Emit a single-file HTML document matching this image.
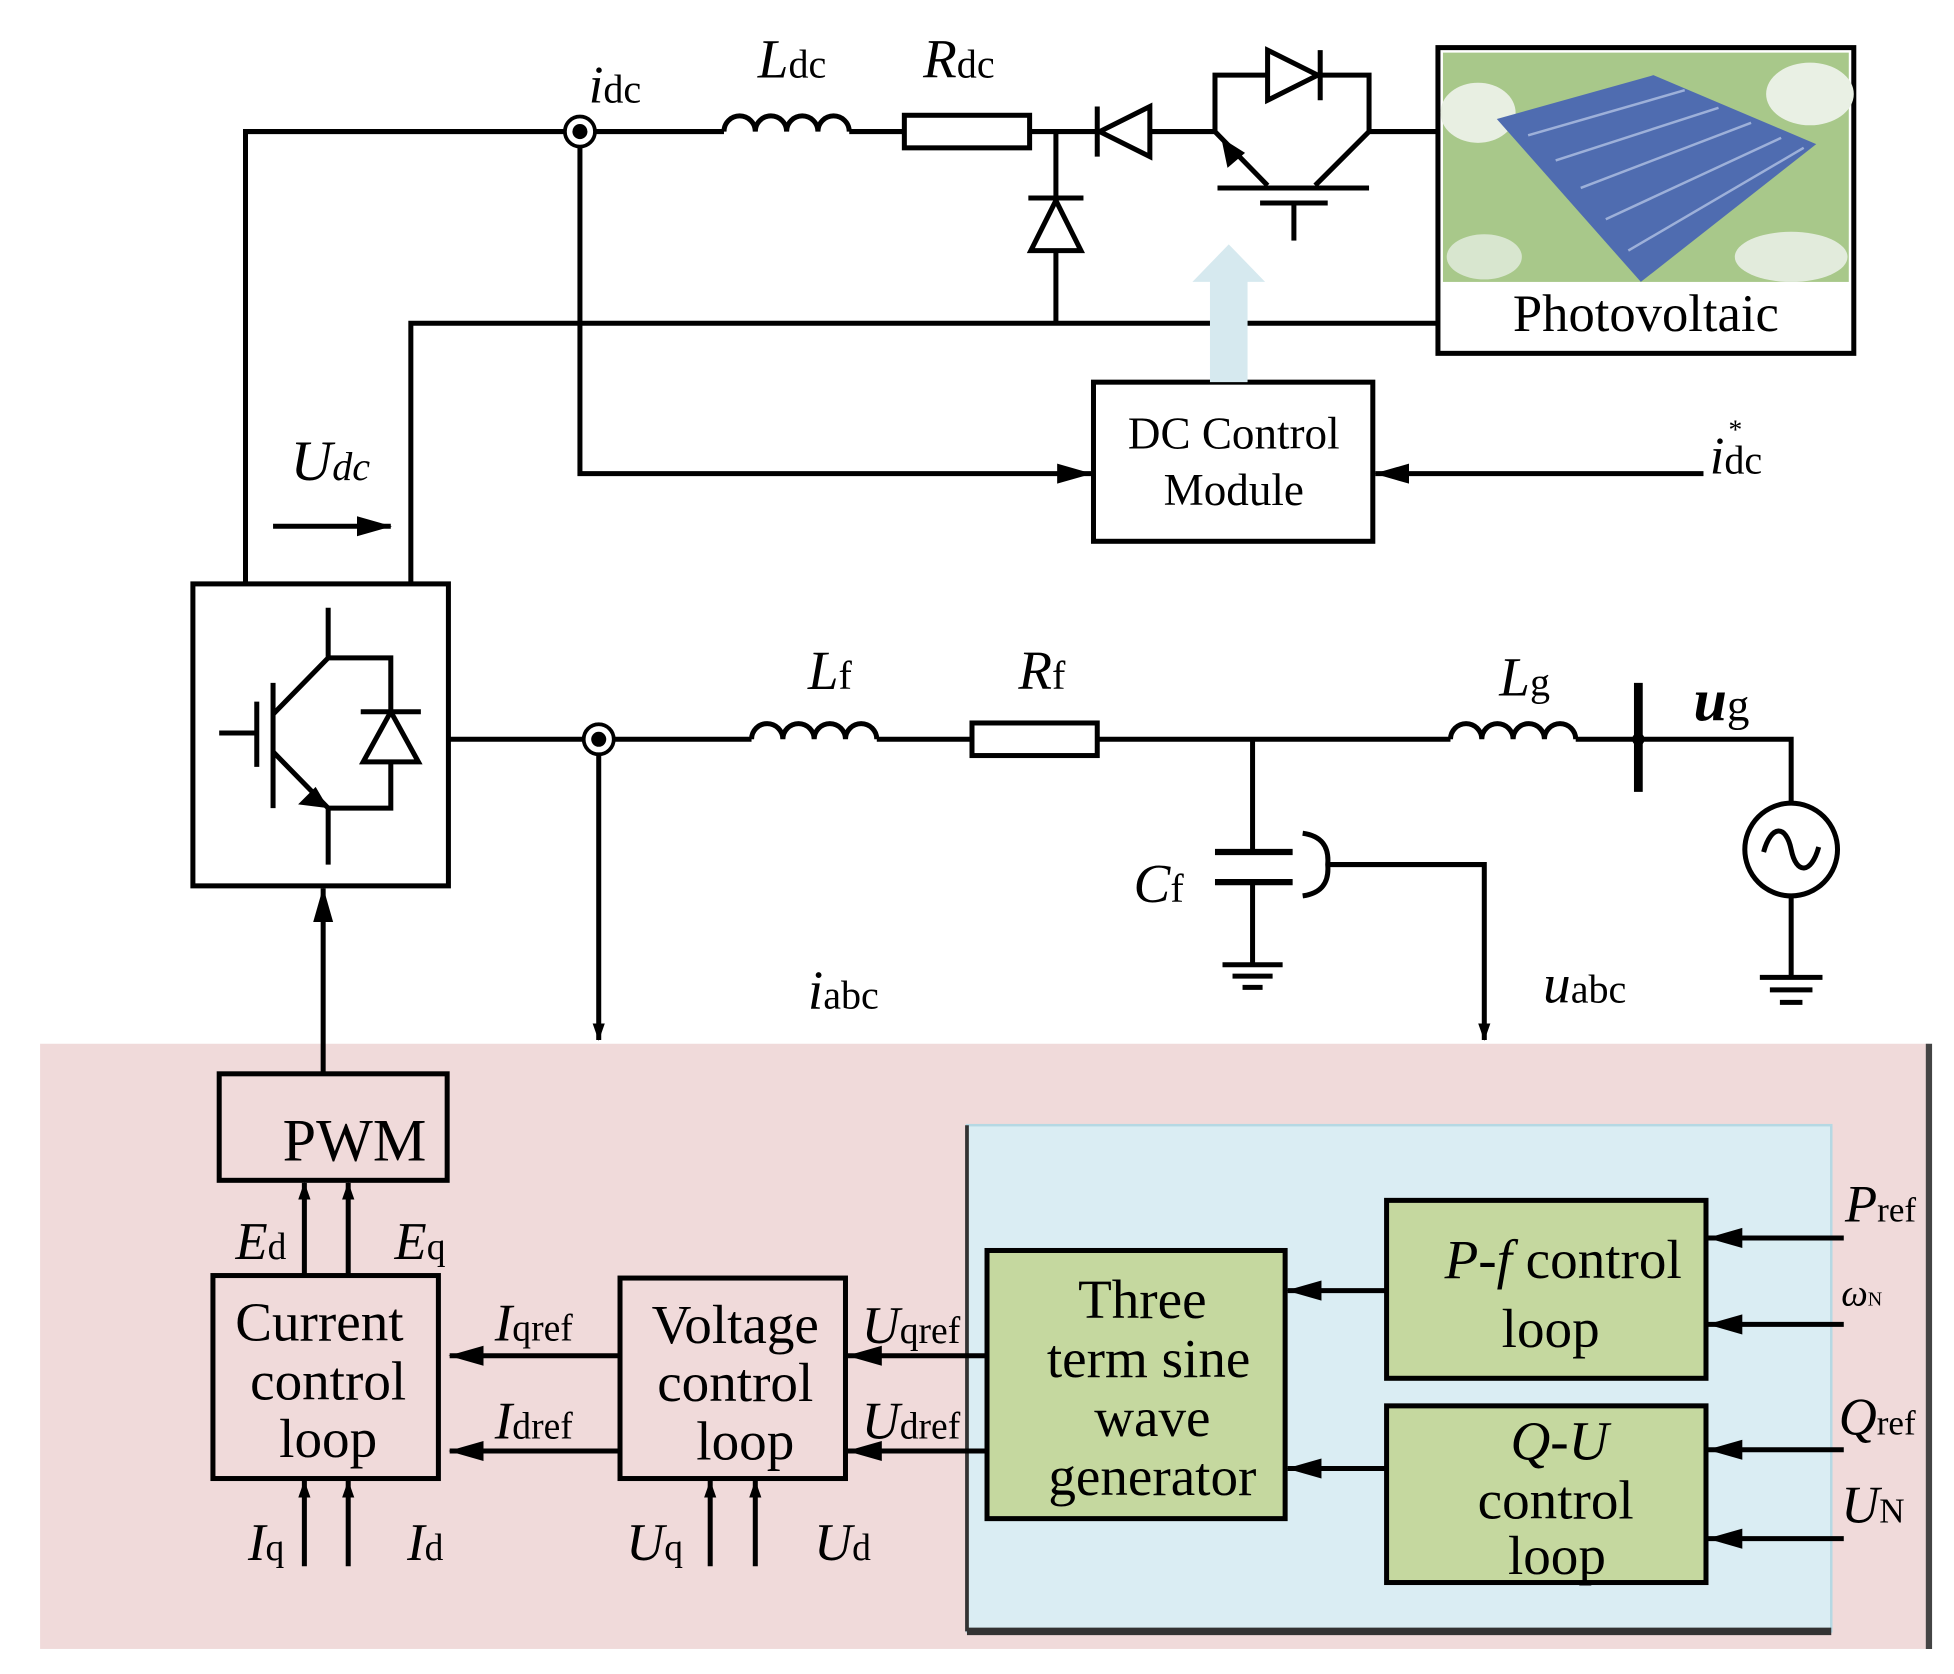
<!DOCTYPE html>
<html><head><meta charset="utf-8"><style>
html,body{margin:0;padding:0;background:#fff}
svg{display:block}
text{font-family:"Liberation Serif",serif;fill:#000}
</style></head><body>
<svg width="1954" height="1674" viewBox="0 0 1560 1336" preserveAspectRatio="none" xmlns="http://www.w3.org/2000/svg">
<defs>
<marker id="ar" markerWidth="14" markerHeight="20" refX="19" refY="10" orient="auto" markerUnits="userSpaceOnUse" viewBox="0 0 20 20"><path d="M0,3 L20,10 L0,17 z" fill="#000"/></marker>
<marker id="ab" markerWidth="28" markerHeight="20" refX="27" refY="10" orient="auto" markerUnits="userSpaceOnUse" viewBox="0 0 28 20"><path d="M0,2 L28,10 L0,18 z" fill="#000"/></marker>
</defs>
<g stroke="#000" stroke-width="4" fill="none">
<polyline points="196,465 196,105 578,105"/>
<line x1="678" y1="105" x2="722" y2="105"/>
<line x1="822" y1="105" x2="970" y2="105"/>
<line x1="1093" y1="105" x2="1148" y2="105"/>
<path d="M578,105 a12.5,12.5 0 0 1 25,0 a12.5,12.5 0 0 1 25,0 a12.5,12.5 0 0 1 25,0 a12.5,12.5 0 0 1 25,0"/>
<rect x="722" y="92" width="100" height="26" fill="#fff"/>
<polygon points="918,85 918,125 878,105" fill="#fff"/>
<line x1="876" y1="85" x2="876" y2="125"/>
<polyline points="970,105 970,60 1093,60 1093,105"/>
<polygon points="1012,40 1012,80 1052,60" fill="#fff"/>
<line x1="1054" y1="40" x2="1054" y2="80"/>
<line x1="970" y1="105" x2="1012" y2="148"/>
<line x1="1093" y1="105" x2="1050" y2="148"/>
<line x1="972" y1="150" x2="1093" y2="150"/>
<polyline points="1006,162 1060,162"/>
<line x1="1033" y1="162" x2="1033" y2="192"/>
<line x1="843" y1="105" x2="843" y2="258"/>
<polygon points="823,200 863,200 843,160" fill="#fff"/>
<line x1="821" y1="158" x2="865" y2="158"/>
<polyline points="328,465 328,258 1148,258"/>
<polyline points="463,105 463,378 871,378" marker-end="url(#ab)"/>
<line x1="1360" y1="378" x2="1098" y2="378" marker-end="url(#ab)"/>
<rect x="873" y="305" width="223" height="127"/>
<line x1="218" y1="420" x2="312" y2="420" marker-end="url(#ab)"/>
<rect x="154" y="466" width="204" height="241"/>
<line x1="218" y1="545" x2="218" y2="645"/>
<line x1="175" y1="585" x2="205" y2="585"/>
<line x1="205" y1="560" x2="205" y2="612"/>
<polyline points="262,485 262,525 218,570"/>
<polyline points="218,600 262,645 262,690"/>
<polyline points="262,525 312,525 312,645 262,645"/>
<polygon points="290,608 334,608 312,568" fill="#fff"/>
<line x1="288" y1="568" x2="336" y2="568"/>
<line x1="358" y1="590" x2="600" y2="590"/>
<path d="M600,590 a12.5,12.5 0 0 1 25,0 a12.5,12.5 0 0 1 25,0 a12.5,12.5 0 0 1 25,0 a12.5,12.5 0 0 1 25,0"/>
<line x1="700" y1="590" x2="776" y2="590"/>
<rect x="776" y="577" width="100" height="26" fill="#fff"/>
<line x1="876" y1="590" x2="1158" y2="590"/>
<path d="M1158,590 a12.5,12.5 0 0 1 25,0 a12.5,12.5 0 0 1 25,0 a12.5,12.5 0 0 1 25,0 a12.5,12.5 0 0 1 25,0"/>
<polyline points="1258,590 1430,590 1430,641"/>
<line x1="1308" y1="545" x2="1308" y2="632" stroke-width="7"/>
<circle cx="1430" cy="678" r="37"/>
<path d="M1408,680 c6,-22 18,-22 22,-2 s16,20 22,-2"/>
<line x1="1430" y1="715" x2="1430" y2="780"/>
<line x1="1405" y1="780" x2="1455" y2="780"/>
<line x1="1413" y1="790" x2="1447" y2="790"/>
<line x1="1421" y1="800" x2="1439" y2="800"/>
<line x1="1000" y1="590" x2="1000" y2="680"/>
<line x1="970" y1="680" x2="1032" y2="680" stroke-width="5"/>
<line x1="970" y1="704" x2="1032" y2="704" stroke-width="5"/>
<line x1="1000" y1="704" x2="1000" y2="770"/>
<line x1="976" y1="770" x2="1024" y2="770"/>
<line x1="984" y1="779" x2="1016" y2="779"/>
<line x1="992" y1="788" x2="1008" y2="788"/>
<path d="M1040,665 q22,3 20,25 q2,22 -20,25"/>
<polyline points="1060,690 1185,690 1185,830" marker-end="url(#ar)"/>
<line x1="478" y1="590" x2="478" y2="830" marker-end="url(#ar)"/>
</g>
<polygon points="262,645 238,642 252,628" fill="#000"/>
<polygon points="975,110 980,134 994,122" fill="#000"/>
<circle cx="463" cy="105" r="12" fill="#fff" stroke="#000" stroke-width="3"/>
<circle cx="463" cy="105" r="6" fill="#000"/>
<circle cx="478" cy="590" r="12" fill="#fff" stroke="#000" stroke-width="3"/>
<circle cx="478" cy="590" r="6" fill="#000"/>
<circle cx="1308" cy="590" r="5" fill="#000"/>
<polygon points="966,305 996,305 996,225 1010,225 981,195 952,225 966,225" fill="#d6e9ef"/>
<rect x="1148" y="38" width="332" height="244" fill="#fff" stroke="#000" stroke-width="4"/>
<rect x="1152" y="42" width="324" height="183" fill="#a8c88a"/>
<ellipse cx="1180" cy="90" rx="30" ry="24" fill="#e8efe2"/>
<ellipse cx="1445" cy="75" rx="35" ry="25" fill="#e9f0e4"/>
<ellipse cx="1430" cy="205" rx="45" ry="20" fill="#e2ebdc"/>
<ellipse cx="1185" cy="205" rx="30" ry="18" fill="#d8e6cf"/>
<polygon points="1195,95 1320,60 1450,115 1310,225" fill="#4f6cb0"/>
<g stroke="#9db0d9" stroke-width="2"><line x1="1220" y1="108" x2="1345" y2="72"/><line x1="1242" y1="128" x2="1372" y2="86"/><line x1="1262" y1="150" x2="1398" y2="98"/><line x1="1282" y1="175" x2="1422" y2="110"/><line x1="1300" y1="200" x2="1440" y2="118"/></g>
<text x="1314" y="264" font-size="42" text-anchor="middle">Photovoltaic</text>
<text x="985" y="358" font-size="36" text-anchor="middle">DC Control</text>
<text x="985" y="403" font-size="36" text-anchor="middle">Module</text>
<text x="470" y="82" font-size="42" font-style="italic">i<tspan font-style="normal" font-size="32">dc</tspan></text>
<text x="605" y="62" font-size="44" font-style="italic">L<tspan font-style="normal" font-size="32">dc</tspan></text>
<text x="737" y="62" font-size="44" font-style="italic">R<tspan font-style="normal" font-size="32">dc</tspan></text>
<text x="1365" y="378" font-size="42" font-style="italic">i<tspan font-style="normal" font-size="32">dc</tspan></text>
<text x="1380" y="350" font-size="22">*</text>
<text x="232" y="383" font-size="46" font-style="italic">U<tspan font-size="32">dc</tspan></text>
<text x="645" y="550" font-size="44" font-style="italic">L<tspan font-style="normal" font-size="32">f</tspan></text>
<text x="813" y="550" font-size="44" font-style="italic">R<tspan font-style="normal" font-size="32">f</tspan></text>
<text x="1197" y="555" font-size="44" font-style="italic">L<tspan font-style="normal" font-size="32">g</tspan></text>
<text x="1352" y="575" font-size="48" font-style="italic" font-weight="bold">u<tspan font-style="normal" font-weight="normal" font-size="36">g</tspan></text>
<text x="905" y="720" font-size="44" font-style="italic">C<tspan font-style="normal" font-size="32">f</tspan></text>
<text x="645" y="805" font-size="44" font-style="italic">i<tspan font-style="normal" font-size="32">abc</tspan></text>
<text x="1232" y="800" font-size="44" font-style="italic">u<tspan font-style="normal" font-size="32">abc</tspan></text>
<rect x="32" y="833" width="1508" height="483" fill="#f0dada"/>
<line x1="1540" y1="833" x2="1540" y2="1316" stroke="#444" stroke-width="5"/>
<rect x="772" y="898" width="690" height="404" fill="#daedf3" stroke="#b5d8e3" stroke-width="2"/>
<line x1="772" y1="898" x2="772" y2="1302" stroke="#333" stroke-width="3"/>
<line x1="772" y1="1302" x2="1462" y2="1302" stroke="#333" stroke-width="6"/>
<g stroke="#000" stroke-width="4" fill="none">
<line x1="258" y1="857" x2="258" y2="709" marker-end="url(#ab)"/>
<rect x="175" y="857" width="182" height="85"/>
<rect x="170" y="1018" width="180" height="162"/>
<rect x="495" y="1020" width="180" height="160"/>
<rect x="788" y="998" width="238" height="214" fill="#c5d89f"/>
<rect x="1107" y="958" width="255" height="142" fill="#c5d89f"/>
<rect x="1107" y="1122" width="255" height="141" fill="#c5d89f"/>
<line x1="243" y1="1018" x2="243" y2="944" marker-end="url(#ar)"/>
<line x1="278" y1="1018" x2="278" y2="944" marker-end="url(#ar)"/>
<line x1="243" y1="1250" x2="243" y2="1182" marker-end="url(#ar)"/>
<line x1="278" y1="1250" x2="278" y2="1182" marker-end="url(#ar)"/>
<line x1="567" y1="1250" x2="567" y2="1182" marker-end="url(#ar)"/>
<line x1="603" y1="1250" x2="603" y2="1182" marker-end="url(#ar)"/>
<line x1="495" y1="1082" x2="359" y2="1082" marker-end="url(#ab)"/>
<line x1="495" y1="1158" x2="359" y2="1158" marker-end="url(#ab)"/>
<line x1="788" y1="1082" x2="677" y2="1082" marker-end="url(#ab)"/>
<line x1="788" y1="1158" x2="677" y2="1158" marker-end="url(#ab)"/>
<line x1="1107" y1="1030" x2="1028" y2="1030" marker-end="url(#ab)"/>
<line x1="1107" y1="1172" x2="1028" y2="1172" marker-end="url(#ab)"/>
<line x1="1472" y1="988" x2="1364" y2="988" marker-end="url(#ab)"/>
<line x1="1472" y1="1057" x2="1364" y2="1057" marker-end="url(#ab)"/>
<line x1="1472" y1="1157" x2="1364" y2="1157" marker-end="url(#ab)"/>
<line x1="1472" y1="1228" x2="1364" y2="1228" marker-end="url(#ab)"/>
</g>
<text x="283" y="926" font-size="48" text-anchor="middle">PWM</text>
<g font-size="44" text-anchor="middle">
<text x="255" y="1070">Current</text><text x="262" y="1117">control</text><text x="262" y="1163">loop</text>
<text x="587" y="1072">Voltage</text><text x="587" y="1118">control</text><text x="595" y="1165">loop</text>
<text x="912" y="1052">Three</text><text x="917" y="1099">term sine</text><text x="920" y="1146">wave</text><text x="920" y="1193">generator</text>
<text x="1248" y="1020"><tspan font-style="italic">P-f</tspan> control</text><text x="1238" y="1075">loop</text>
<text x="1245" y="1165" font-style="italic">Q-U</text><text x="1242" y="1212">control</text><text x="1243" y="1256">loop</text>
</g>
<g font-size="42" font-style="italic">
<text x="188" y="1005">E<tspan font-style="normal" font-size="30">d</tspan></text>
<text x="315" y="1005">E<tspan font-style="normal" font-size="30">q</tspan></text>
<text x="198" y="1245">I<tspan font-style="normal" font-size="30">q</tspan></text>
<text x="325" y="1245">I<tspan font-style="normal" font-size="30">d</tspan></text>
<text x="500" y="1245">U<tspan font-style="normal" font-size="30">q</tspan></text>
<text x="650" y="1245">U<tspan font-style="normal" font-size="30">d</tspan></text>
<text x="395" y="1070">I<tspan font-style="normal" font-size="30">qref</tspan></text>
<text x="395" y="1148">I<tspan font-style="normal" font-size="30">dref</tspan></text>
<text x="688" y="1072">U<tspan font-style="normal" font-size="30">qref</tspan></text>
<text x="688" y="1148">U<tspan font-style="normal" font-size="30">dref</tspan></text>
<text x="1473" y="975">P<tspan font-style="normal" font-size="28">ref</tspan></text>
<text x="1470" y="1042" font-size="30">ω<tspan font-style="normal" font-size="16">N</tspan></text>
<text x="1468" y="1145">Q<tspan font-style="normal" font-size="28">ref</tspan></text>
<text x="1470" y="1215">U<tspan font-style="normal" font-size="28">N</tspan></text>
</g>
</svg>
</body></html>
